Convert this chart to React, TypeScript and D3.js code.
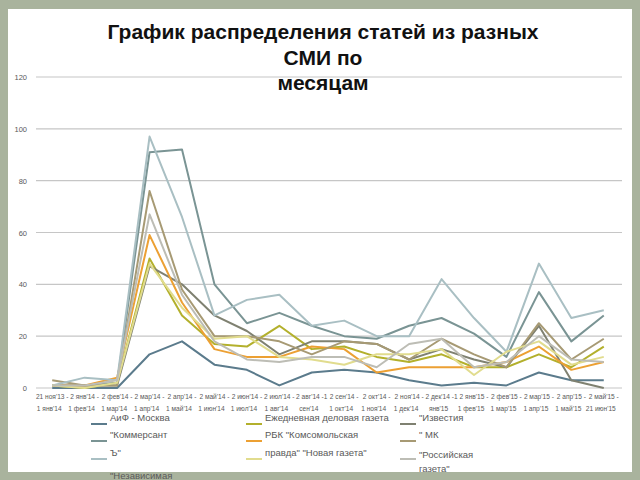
import React from "react";
import * as d3 from "d3";

const categoriesTop = ["21 ноя'13 -", "2 янв'14 -", "2 фев'14 -", "2 мар'14 -", "2 апр'14 -", "2 май'14 -", "2 июн'14 -", "2 июл'14 -", "2 авг'14 -1", "2 сен'14 -", "2 окт'14 -", "2 ноя'14 -", "2 дек'14 -1", "2 янв'15 -", "2 фев'15 -", "2 мар'15 -", "2 апр'15 -", "2 май'15 -"];
const categoriesBottom = ["1 янв'14", "1 фев'14", "1 мар'14", "1 апр'14", "1 май'14", "1 июн'14", "1 июл'14", "1 авг'14", "сен'14", "1 окт'14", "1 ноя'14", "1 дек'14", "янв'15", "1 фев'15", "1 мар'15", "1 апр'15", "1 май'15", "21 июн'15"];

const aif = [0, 0, 0, 13, 18, 9, 7, 1, 6, 7, 6, 3, 1, 2, 1, 6, 3, 3];
const ezhednevnaya = [1, 0, 2, 50, 28, 17, 16, 24, 15, 16, 12, 10, 13, 8, 8, 13, 8, 16];
const izvestia = [1, 1, 1, 47, 40, 28, 22, 13, 18, 18, 17, 11, 15, 11, 8, 24, 3, 0];
const kommersant = [1, 1, 2, 91, 92, 40, 25, 29, 24, 20, 19, 24, 27, 21, 12, 37, 18, 28];
const rbk = [1, 1, 4, 59, 33, 15, 12, 12, 16, 15, 6, 8, 8, 8, 10, 16, 7, 10];
const mk = [3, 1, 1, 76, 38, 20, 20, 18, 13, 18, 17, 11, 19, 13, 8, 25, 11, 19];
const kommersantB = [1, 4, 3, 97, 66, 28, 34, 36, 24, 26, 20, 20, 42, 27, 14, 48, 27, 30];
const novaya = [1, 0, 2, 48, 31, 19, 20, 12, 11, 9, 13, 13, 15, 5, 14, 18, 9, 12];
const rossiyskaya = [1, 1, 3, 67, 36, 18, 11, 10, 12, 12, 8, 17, 19, 8, 10, 20, 11, 10];

const yTicks = [0, 20, 40, 60, 80, 100, 120];

const titleLines = ["График распределения статей из разных", "СМИ по", "месяцам"];

const seriesNames = ["АиФ - Москва", "Ежедневная деловая газета", "\"Известия", "\"Коммерсант", "РБК  \"Комсомольская", "\"  МК", "Ъ\"", "правда\"  \"Новая газета\"", "\"Российская|газета\"", "\"Независимая"];
const seriesValues = [aif, ezhednevnaya, izvestia, kommersant, rbk, mk, kommersantB, novaya, rossiyskaya, null];
const seriesColors = ["#5b7b8c", "#b3b02c", "#7f8171", "#7a9494", "#eca033", "#a79a74", "#a9bfc3", "#e1dc8e", "#bdbdb5", "#8fa4ab"];

const W = 640;
const H = 480;

export default function App() {
  const x = d3.scaleBand<number>().domain(d3.range(categoriesTop.length)).range([36, 620]);
  const y = d3.scaleLinear().domain([0, 120]).range([388, 77]);
  const cx = (i: number) => (x(i) as number) + x.bandwidth() / 2;
  const line = d3
    .line<number>()
    .x((_, i) => cx(i))
    .y((v) => y(v));

  // legend layout: 3 columns, row-major
  const colX = [91, 246, 400];
  const rowSwatchY = [424, 441, 459, 482];
  const rowTextY = [421, 438, 456, 479];

  return (
    <svg width={W} height={H} style={{ position: "absolute", left: 0, top: 0 }} fontFamily="'Liberation Sans', Arial, sans-serif">
      <rect x={0} y={0} width={W} height={H} fill="#a9b39d" />
      <rect x={8} y={9} width={624} height={463} fill="#ffffff" />

      {yTicks.map((t) => (
        <g key={t}>
          <line x1={36} x2={622} y1={y(t)} y2={y(t)} stroke="#c6c6c6" strokeWidth={1.2} />
          <text x={27} y={y(t) + 3} textAnchor="end" fontSize={7.5} fill="#595959">
            {t}
          </text>
        </g>
      ))}

      {titleLines.map((t, i) => (
        <text key={i} x={323} y={39 + i * 25.5} textAnchor="middle" fontSize={21} fontWeight="bold" fill="#111">
          {t}
        </text>
      ))}

      {seriesValues.map((vals, si) =>
        vals ? (
          <path key={si} d={line(vals) || ""} fill="none" stroke={seriesColors[si]} strokeWidth={2} strokeLinejoin="round" />
        ) : null
      )}

      {categoriesTop.map((c, i) => (
        <g key={i} fontSize={6.6} fill="#595959">
          <text x={cx(i)} y={399} textAnchor="middle">
            {c}
          </text>
          <text x={cx(i) - 3} y={411} textAnchor="middle">
            {categoriesBottom[i]}
          </text>
        </g>
      ))}

      {seriesNames.map((name, si) => {
        const col = si % 3;
        const row = Math.floor(si / 3);
        const parts = name.split("|");
        const ty = parts.length > 1 ? rowTextY[row] + 2 : rowTextY[row];
        return (
          <g key={si}>
            <line x1={colX[col]} x2={colX[col] + 16} y1={rowSwatchY[row]} y2={rowSwatchY[row]} stroke={seriesColors[si]} strokeWidth={2} />
            {parts.map((p, pi) => (
              <text key={pi} x={colX[col] + 19} y={ty + pi * 14} fontSize={9.5} fill="#595959">
                {p}
              </text>
            ))}
          </g>
        );
      })}
    </svg>
  );
}
